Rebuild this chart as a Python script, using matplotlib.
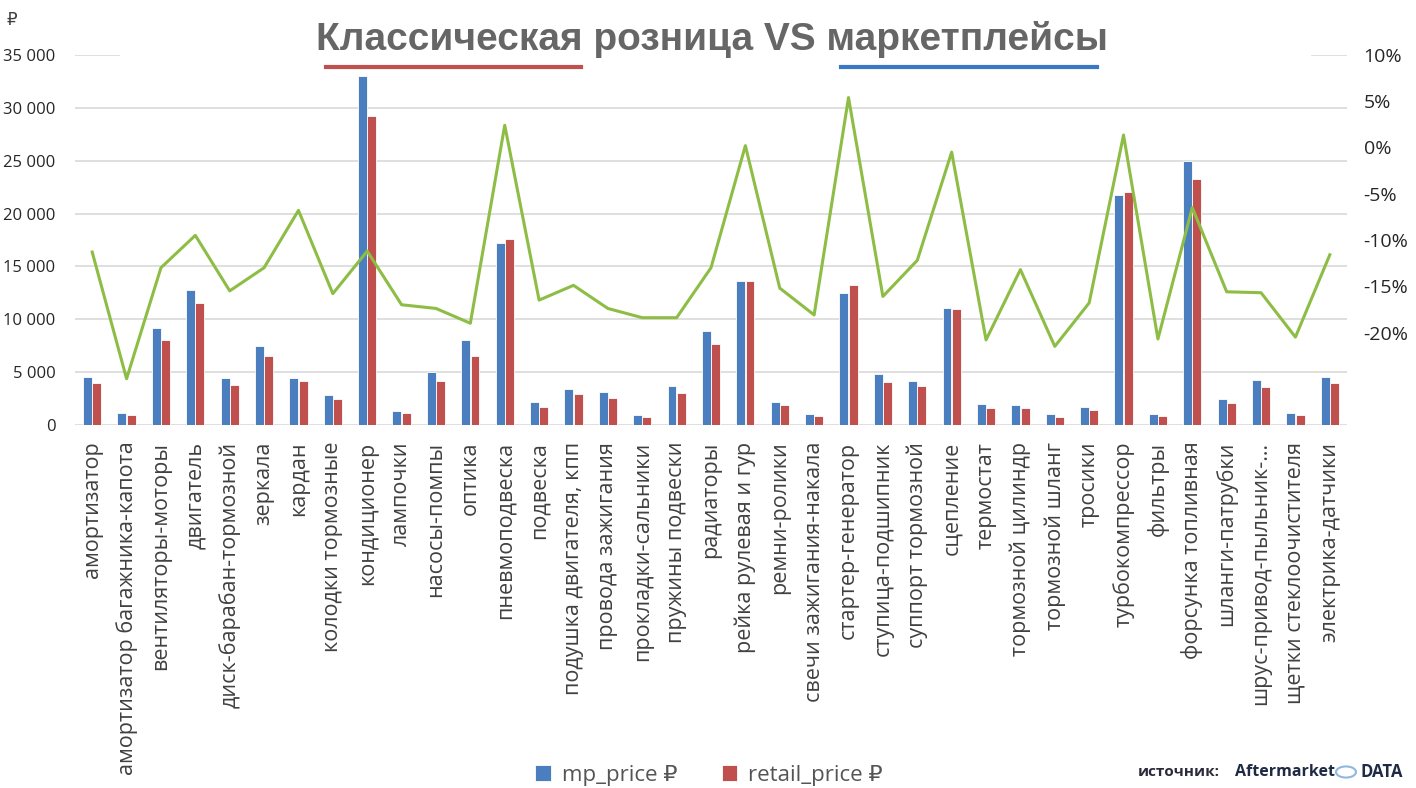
import numpy as np
import matplotlib
matplotlib.use("Agg")
import matplotlib.pyplot as plt
from matplotlib.patches import Rectangle
from matplotlib.lines import Line2D

plt.rcParams['font.family'] = ['Open Sans', 'DejaVu Sans']

# categories (product groups)
categories = [
    "амортизатор", "амортизатор багажника-капота", "вентиляторы-моторы",
    "двигатель", "диск-барабан-тормозной", "зеркала", "кардан",
    "колодки тормозные", "кондиционер", "лампочки", "насосы-помпы", "оптика",
    "пневмоподвеска", "подвеска", "подушка двигателя, кпп", "провода зажигания",
    "прокладки-сальники", "пружины подвески", "радиаторы", "рейка рулевая и гур",
    "ремни-ролики", "свечи зажигания-накала", "стартер-генератор",
    "ступица-подшипник", "суппорт тормозной", "сцепление", "термостат",
    "тормозной цилиндр", "тормозной шланг", "тросики", "турбокомпрессор",
    "фильтры", "форсунка топливная", "шланги-патрубки", "шрус-привод-пыльник-…",
    "щетки стеклоочистителя", "электрика-датчики",
]

# average price on marketplaces, rub
mp_price = [4500, 1150, 9150, 12800, 4450, 7500, 4450, 2850, 33000, 1350,
            5000, 8050, 17250, 2150, 3450, 3150, 950, 3700, 8850, 13600,
            2150, 1050, 12500, 4800, 4150, 11050, 1950, 1850, 1050, 1700,
            21800, 1050, 24950, 2450, 4250, 1150, 4500]

# average price in classic retail, rub
retail_price = [4000, 900, 8000, 11500, 3750, 6500, 4150, 2500, 29250, 1100,
                4150, 6500, 17600, 1750, 2950, 2550, 750, 3050, 7700, 13600,
                1850, 850, 13200, 4050, 3650, 10950, 1600, 1600, 800, 1400,
                22050, 850, 23250, 2050, 3550, 950, 3950]

# difference, % (right axis)
diff_pct = [-11.3, -25.0, -13.0, -9.5, -15.5, -13.0, -6.8, -15.8, -11.2, -17.0,
            -17.4, -19.0, 2.4, -16.5, -14.9, -17.4, -18.4, -18.4, -13.0, 0.2,
            -15.2, -18.1, 5.4, -16.1, -12.2, -0.5, -20.8, -13.2, -21.5, -16.8,
            1.35, -20.7, -6.5, -15.6, -15.7, -20.5, -11.6]

W, H = 1416, 788
blue = "#4a7ebf"
red = "#c0504d"
green = "#8dbd45"

fig = plt.figure(figsize=(W / 100, H / 100), dpi=100)
ax = fig.add_axes([75 / W, 1 - 425 / H, (1347 - 75) / W, 370 / H])

x = np.arange(len(categories))
ax.bar(x - 0.135, mp_price, width=0.26, color=blue, edgecolor="white", linewidth=0.6,
       label="mp_price ₽")
ax.bar(x + 0.135, retail_price, width=0.26, color=red, edgecolor="white", linewidth=0.6,
       label="retail_price ₽")

ax.set_xlim(-0.5, len(categories) - 0.5)
ax.set_ylim(0, 35000)
yt = np.arange(0, 35001, 5000)
ax.set_yticks(yt)
ax.set_yticklabels([f"{v:,}".replace(",", " ") for v in yt], fontsize=12, color="#262626")
ax.set_xticks(x)
ax.set_xticklabels(categories, rotation=90, fontsize=15.5, color="#404040",
                   ha="center", va="top")
ax.tick_params(axis="both", length=0)
ax.tick_params(axis="x", pad=12)
ax.tick_params(axis="y", pad=14)
ax.grid(axis="y", color="#d9d9d9", linewidth=1.2)
ax.set_axisbelow(True)
for s in ax.spines.values():
    s.set_visible(False)

ax2 = ax.twinx()
ax2.plot(x, diff_pct, color=green, linewidth=2.2)
ax2.set_ylim(-30, 10)
rt = np.arange(-20, 11, 5)
ax2.set_yticks(rt)
ax2.set_yticklabels([f"{v}%" for v in rt], fontsize=14, color="#262626")
ax2.tick_params(axis="y", length=0, pad=12)
for s in ax2.spines.values():
    s.set_visible(False)

# white area behind the title
fig.patches.append(Rectangle((120 / W, 1 - 62 / H), (1310 - 120) / W, 62 / H,
                             transform=fig.transFigure, color="white", zorder=1))

fig.text(712 / W, 1 - 40 / H, "Классическая розница VS маркетплейсы",
         fontsize=28, fontweight="bold", color="#666666", ha="center", va="center",
         family=["Liberation Sans Narrow", "Liberation Sans", "DejaVu Sans"], zorder=2)
fig.lines.append(Line2D([326 / W, 581 / W], [1 - 67 / H] * 2, transform=fig.transFigure,
                        color=red, linewidth=3, zorder=2))
fig.lines.append(Line2D([841 / W, 1097 / W], [1 - 67 / H] * 2, transform=fig.transFigure,
                        color="#3a78c4", linewidth=3, zorder=2))

fig.text(12 / W, 1 - 20 / H, "₽", fontsize=12, color="#404040", ha="center", va="center",
         family=["DejaVu Sans"])

fig.legend(loc="center", bbox_to_anchor=(709 / W, 1 - 775 / H), ncol=2, frameon=False,
           fontsize=16, handlelength=0.7, handleheight=0.7, columnspacing=2.0,
           handletextpad=0.5, labelcolor="#555555")

fig.text(1138 / W, 1 - 772 / H, "источник:", fontsize=11, fontweight="bold",
         color="#2b2b3b", ha="left", va="center")
fig.text(1235 / W, 1 - 772 / H, "Aftermarket", fontsize=11.5, fontweight="bold",
         color="#1f2a44", ha="left", va="center")
fig.patches.append(plt.Circle((1346 / W, 1 - 772 / H), 10 / W, transform=fig.transFigure,
                              fill=False, edgecolor="#8fb8de", linewidth=1.5))
fig.text(1360 / W, 1 - 772 / H, "DATA", fontsize=12, fontweight="bold",
         color="#1f2a44", ha="left", va="center")

fig.savefig("out.png", dpi=100)
